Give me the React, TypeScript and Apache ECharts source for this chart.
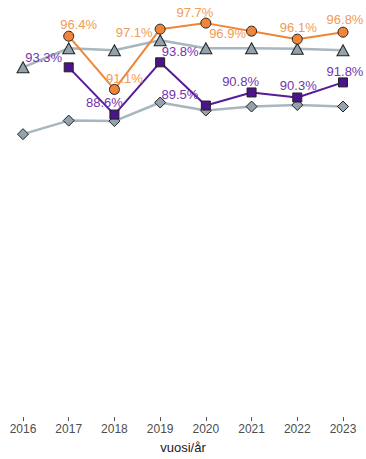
import React, { useEffect, useRef } from "react";
import * as echarts from "echarts";

const years = ["2016", "2017", "2018", "2019", "2020", "2021", "2022", "2023"];
const orangeValues: (number | null)[] = [null, 96.4, 91.1, 97.1, 97.7, 96.9, 96.1, 96.8];
const purpleValues: (number | null)[] = [null, 93.3, 88.6, 93.8, 89.5, 90.8, 90.3, 91.8];
const grayTriangleValues = [93.3, 95.2, 95.0, 96.0, 95.2, 95.2, 95.15, 95.0];
const grayDiamondValues = [86.65, 88.0, 87.95, 89.8, 89.0, 89.4, 89.55, 89.4];

const orangeLabelOffsets: number[][] = [[0, 0], [10, -12], [10, -11], [-26, 3], [-11, -11], [-24, 2], [1, -11.5], [2, -12.5]];
const purpleLabelOffsets: number[][] = [[0, 0], [-25, -10], [-10, -12], [20, -11], [-26, -11], [-11, -11], [1, -11.5], [2, -11]];

const FONT = "Liberation Sans, Arial, Helvetica, sans-serif";

function labelled(values: (number | null)[], offsets: number[][], color: string) {
  return values.map((v, i) =>
    v === null
      ? null
      : {
          value: v,
          label: {
            show: true,
            position: "inside",
            offset: offsets[i],
            formatter: (p: any) => p.value.toFixed(1) + "%",
            color,
            fontSize: 13,
            fontFamily: FONT,
          },
        }
  );
}

export default function App() {
  const ref = useRef<HTMLDivElement>(null);
  useEffect(() => {
    if (!ref.current) return;
    const chart = echarts.init(ref.current, undefined, { renderer: "svg" });
    const grayLine = "#a8b6bf";
    const grayFill = "#93a2ac";
    chart.setOption({
      animation: false,
      grid: { left: 23, right: 23, top: -3, bottom: 36, containLabel: false },
      xAxis: {
        type: "category",
        data: years,
        boundaryGap: false,
        name: "vuosi/år",
        nameLocation: "middle",
        nameGap: 23,
        nameTextStyle: { color: "#1a1a1a", fontSize: 13, fontFamily: FONT, verticalAlign: "middle", lineHeight: 14 },
        axisLine: { show: false },
        axisTick: { show: true, length: 4, lineStyle: { color: "#555555" } },
        axisLabel: { color: "#4d4d4d", fontSize: 12, fontFamily: FONT, margin: 6 },
        splitLine: { show: false },
      },
      yAxis: {
        type: "value",
        min: 58.5,
        max: 100,
        show: false,
        splitLine: { show: false },
      },
      series: [
        {
          type: "line",
          data: grayTriangleValues,
          symbol: "triangle",
          symbolSize: [12, 11],
          lineStyle: { color: grayLine, width: 2.5 },
          itemStyle: { color: grayFill, borderColor: "#222222", borderWidth: 1 },
          z: 2,
        },
        {
          type: "line",
          data: grayDiamondValues,
          symbol: "diamond",
          symbolSize: [11, 11],
          lineStyle: { color: grayLine, width: 2.5 },
          itemStyle: { color: grayFill, borderColor: "#222222", borderWidth: 1 },
          z: 3,
        },
        {
          type: "line",
          data: labelled(purpleValues, purpleLabelOffsets, "#7434ad"),
          symbol: "rect",
          symbolSize: 9,
          connectNulls: false,
          lineStyle: { color: "#561b98", width: 2 },
          itemStyle: { color: "#4b148a", borderColor: "#222222", borderWidth: 1 },
          z: 4,
        },
        {
          type: "line",
          data: labelled(orangeValues, orangeLabelOffsets, "#f39a55"),
          symbol: "circle",
          symbolSize: 10,
          lineStyle: { color: "#ef8539", width: 2 },
          itemStyle: { color: "#ef8539", borderColor: "#222222", borderWidth: 1 },
          z: 5,
        },
      ],
    });
    return () => chart.dispose();
  }, []);
  return <div ref={ref} style={{ position: "absolute", left: 0, top: 0, width: 366, height: 459 }} />;
}
